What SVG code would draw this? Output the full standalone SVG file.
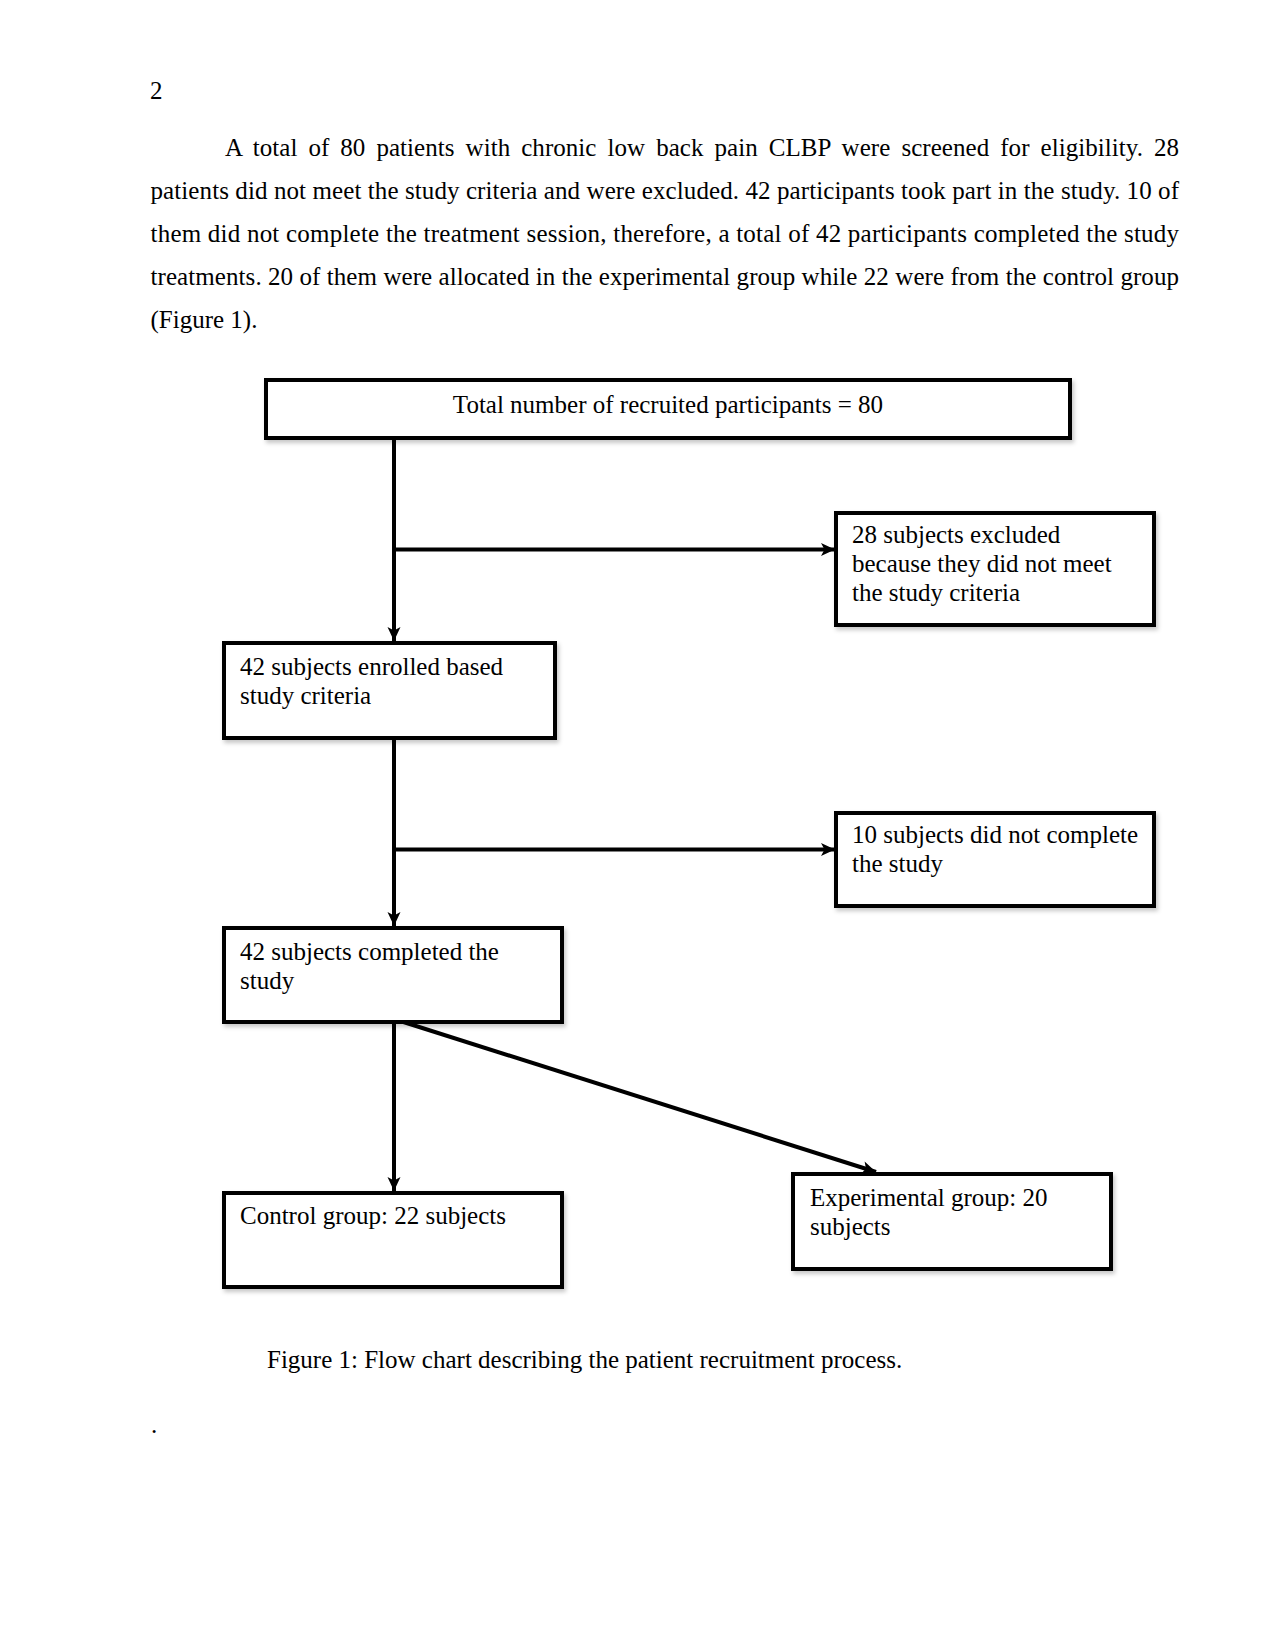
<svg xmlns="http://www.w3.org/2000/svg" width="1275" height="1651" viewBox="0 0 1275 1651">
<style>
  text { font-family: "Liberation Serif", "Times New Roman", serif; font-size: 25px; fill: #000; }
  .box { fill: #fff; stroke: #000; stroke-width: 4; filter: url(#sh); }
  .conn { stroke: #000; stroke-width: 4; fill: none; }
</style>
<defs>
  <filter id="sh" x="-10%" y="-10%" width="120%" height="130%">
    <feDropShadow dx="2" dy="3" stdDeviation="2" flood-color="#000" flood-opacity="0.22"/>
  </filter>
  <marker id="arr" markerUnits="userSpaceOnUse" markerWidth="16" markerHeight="16" viewBox="0 0 16 16" refX="15" refY="8" orient="auto">
    <path d="M1,1.5 L15,8 L1,14.5 L4.5,8 Z" fill="#000"/>
  </marker>
</defs>
<rect width="1275" height="1651" fill="#fff"/>

<text x="150" y="99">2</text>
<g id="paragraph">
  <text x="225" y="156" textLength="954" lengthAdjust="spacing" word-spacing="4.7">A total of 80 patients with chronic low back pain CLBP were screened for eligibility. 28</text>
  <text x="150.5" y="199" textLength="1028.5" lengthAdjust="spacing">patients did not meet the study criteria and were excluded. 42 participants took part in the study. 10 of</text>
  <text x="150.5" y="242" textLength="1028.5" lengthAdjust="spacing">them did not complete the treatment session, therefore, a total of 42 participants completed the study</text>
  <text x="150.5" y="285" textLength="1028.5" lengthAdjust="spacing">treatments. 20 of them were allocated in the experimental group while 22 were from the control group</text>
  <text x="150.5" y="328">(Figure 1).</text>
</g>

<g id="connectors">
  <line class="conn" x1="394" y1="438" x2="394" y2="641" marker-end="url(#arr)"/>
  <line class="conn" x1="394" y1="549.5" x2="835" y2="549.5" marker-end="url(#arr)"/>
  <line class="conn" x1="394" y1="738" x2="394" y2="926" marker-end="url(#arr)"/>
  <line class="conn" x1="394" y1="849.5" x2="835" y2="849.5" marker-end="url(#arr)"/>
  <line class="conn" x1="394" y1="1019" x2="394" y2="1191" marker-end="url(#arr)"/>
  <line class="conn" x1="394" y1="1019" x2="876" y2="1172" marker-end="url(#arr)"/>
</g>

<g id="n-total">
  <rect class="box" x="266" y="380" width="804" height="58"/>
  <text x="668" y="413" text-anchor="middle">Total number of recruited participants = 80</text>
</g>
<g id="n-excluded">
  <rect class="box" x="836" y="513" width="318" height="112"/>
  <text x="852" y="543">28 subjects excluded</text>
  <text x="852" y="572">because they did not meet</text>
  <text x="852" y="601">the study criteria</text>
</g>
<g id="n-enrolled">
  <rect class="box" x="224" y="643" width="331" height="95"/>
  <text x="240" y="675">42 subjects enrolled based</text>
  <text x="240" y="704">study criteria</text>
</g>
<g id="n-notcomplete">
  <rect class="box" x="836" y="813" width="318" height="93"/>
  <text x="852" y="843">10 subjects did not complete</text>
  <text x="852" y="872">the study</text>
</g>
<g id="n-completed">
  <rect class="box" x="224" y="928" width="338" height="94"/>
  <text x="240" y="960">42 subjects completed the</text>
  <text x="240" y="989">study</text>
</g>
<g id="n-control">
  <rect class="box" x="224" y="1193" width="338" height="94"/>
  <text x="240" y="1224">Control group: 22 subjects</text>
</g>
<g id="n-experimental">
  <rect class="box" x="793" y="1174" width="318" height="95"/>
  <text x="810" y="1206">Experimental group: 20</text>
  <text x="810" y="1235">subjects</text>
</g>

<text x="267" y="1368">Figure 1: Flow chart describing the patient recruitment process.</text>
<text x="151" y="1433">.</text>
</svg>
